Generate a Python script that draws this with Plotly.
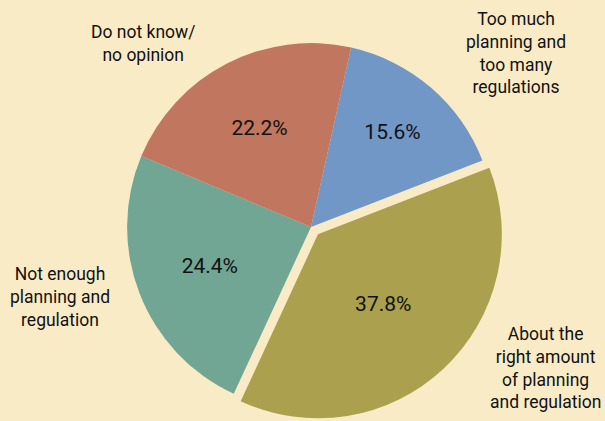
import plotly.graph_objects as go

# slices, clockwise from the top-right
labels = ["Too much planning and too many regulations",
          "About the right amount of planning and regulation",
          "Not enough planning and regulation",
          "Do not know/ no opinion"]
values = [15.6, 37.8, 24.4, 22.2]
colors = ["#7097C5", "#ABA04E", "#71A594", "#C0765F"]
pulls = [0, 0.055, 0, 0]

# outside labels (with line breaks) as drawn in the figure
label_text = ["Too much<br>planning and<br>too many<br>regulations",
              "About the<br>right amount<br>of planning<br>and regulation",
              "Not enough<br>planning and<br>regulation",
              "Do not know/<br>no opinion"]

W, H = 605, 421
FONT = "Roboto, Liberation Sans Narrow, sans-serif"

fig = go.Figure(go.Pie(
    labels=labels,
    values=values,
    sort=False,
    direction="clockwise",
    rotation=12.6,
    pull=pulls,
    marker=dict(colors=colors, line=dict(width=0)),
    texttemplate="%{value:.1f}%",
    textposition="inside",
    insidetextorientation="horizontal",
    textfont=dict(family=FONT, size=21, color="#111111"),
    hoverinfo="label+percent",
    showlegend=False,
    domain=dict(x=[(311 - 290) / W, (311 + 290) / W], y=[0, 388 / H]),
))

# label positions in pixels (centre x, middle y)
label_pos = [(516, 53), (545, 368), (60, 297), (143, 43)]
for txt, (px_, py_) in zip(label_text, label_pos):
    fig.add_annotation(
        text=txt, x=px_ / W, y=1 - py_ / H, xref="paper", yref="paper",
        xanchor="center", yanchor="middle", align="center", showarrow=False,
        font=dict(family=FONT, size=17.5, color="#111111"))

fig.update_layout(
    width=W, height=H,
    margin=dict(l=0, r=0, t=0, b=0),
    paper_bgcolor="#FAEBC7",
    plot_bgcolor="#FAEBC7",
)

fig.write_html("out.html", config={"displayModeBar": False},
               post_script="document.body.style.margin='0';")
